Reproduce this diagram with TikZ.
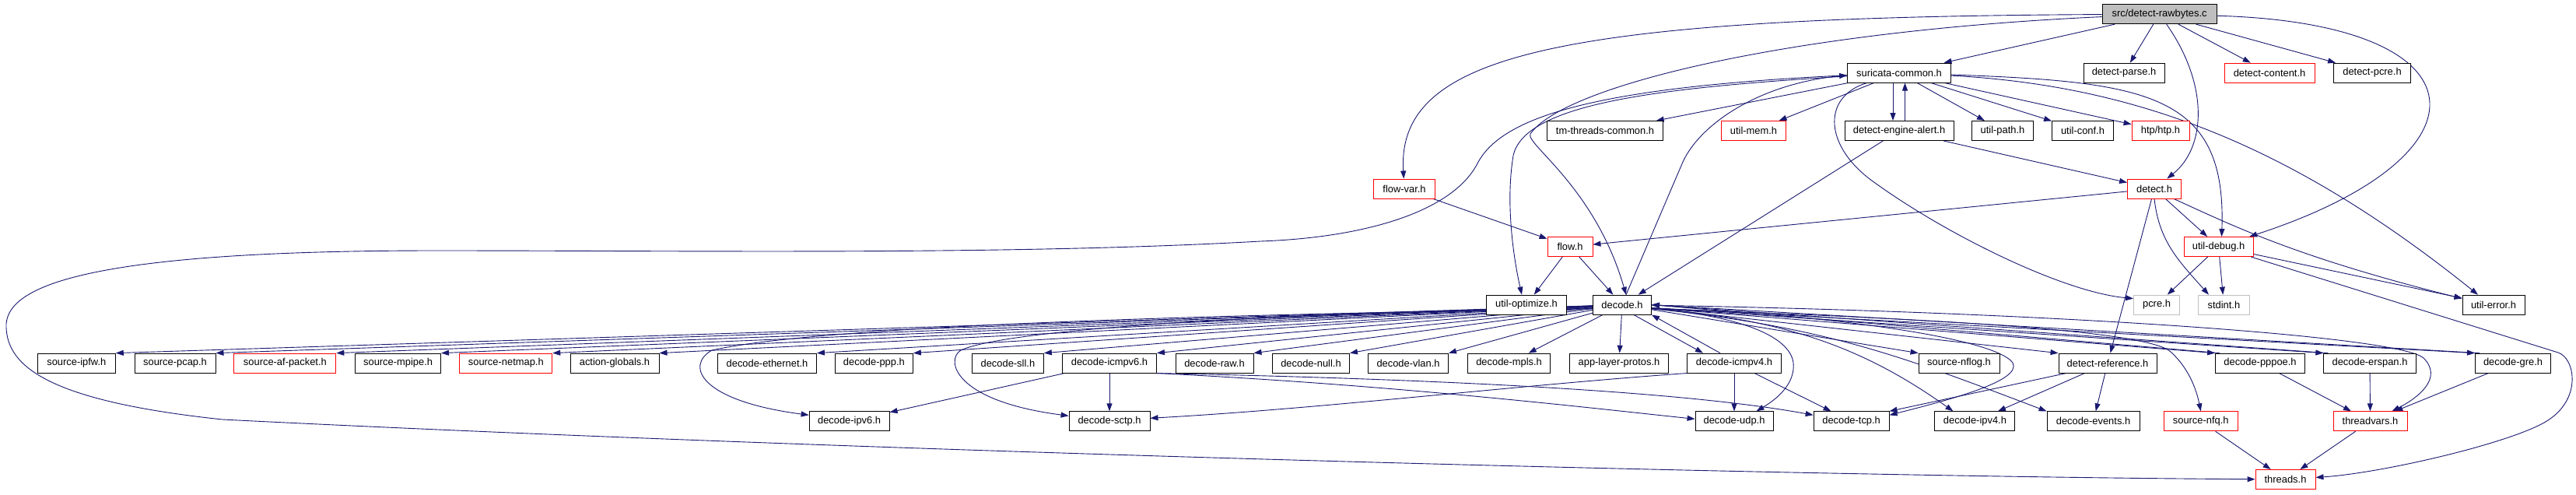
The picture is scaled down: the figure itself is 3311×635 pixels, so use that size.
\documentclass[tikz,border=0pt]{standalone}
\usepackage{fontspec}
\setmainfont{Liberation Sans}
\usetikzlibrary{arrows.meta}
\definecolor{edgec}{HTML}{191970}
\definecolor{srcfill}{HTML}{BFBFBF}
\definecolor{ghost}{HTML}{BFBFBF}
\definecolor{redb}{HTML}{FF0000}
\pgfdeclarelayer{bg}
\pgfsetlayers{bg,main}
\begin{document}
\begin{tikzpicture}[x=1pt,y=-1pt,
  box/.style={draw=black,line width=0.9pt,minimum height=25pt,inner sep=0pt,fill=white,font=\fontsize{12.9}{15}\selectfont},
  redbox/.style={box,draw=redb},
  ghostbox/.style={box,draw=ghost},
  srcbox/.style={box,fill=srcfill},
  conn/.style={draw=edgec,line width=0.9pt,-{Triangle[length=10pt,width=7pt]}}]
\useasboundingbox (0,0) rectangle (3311,635);
% row 0
\node[srcbox,minimum width=147pt] (src) at (2775.6,18.2) {src/detect-rawbytes.c};
% row 1
\node[box,minimum width=133pt] (sc) at (2441,93.6) {suricata-common.h};
\node[box,minimum width=104pt] (dparse) at (2730,93.6) {detect-parse.h};
\node[redbox,minimum width=116pt] (dcontent) at (2917,93.6) {detect-content.h};
\node[box,minimum width=99pt] (dpcre) at (3049,93.6) {detect-pcre.h};
% row 2
\node[box,minimum width=149pt] (tmtc) at (2063,168) {tm-threads-common.h};
\node[redbox,minimum width=83pt] (umem) at (2254,168) {util-mem.h};
\node[box,minimum width=140pt] (dea) at (2441,168) {detect-engine-alert.h};
\node[box,minimum width=79pt] (upath) at (2574,168) {util-path.h};
\node[box,minimum width=79pt] (uconf) at (2677,168) {util-conf.h};
\node[redbox,minimum width=74pt] (htp) at (2777,168) {htp/htp.h};
% row 3
\node[redbox,minimum width=79pt] (flowvar) at (1805,242.5) {flow-var.h};
\node[redbox,minimum width=69pt] (detect) at (2769,242.5) {detect.h};
% row 4
\node[redbox,minimum width=58pt] (flow) at (2018,317) {flow.h};
\node[redbox,minimum width=89pt] (udebug) at (2851.5,317) {util-debug.h};
% row 5
\node[box,minimum width=103pt] (uopt) at (1962,391.6) {util-optimize.h};
\node[box,minimum width=75pt] (decode) at (2085,391.6) {decode.h};
\node[ghostbox,minimum width=59pt] (pcre) at (2772,391.6) {pcre.h};
\node[ghostbox,minimum width=66pt] (stdint) at (2858.4,391.6) {stdint.h};
\node[box,minimum width=80pt] (uerror) at (3205,391.6) {util-error.h};
% row 6
\node[box,minimum width=100pt] (ipfw) at (98.3,466.6) {source-ipfw.h};
\node[box,minimum width=104pt] (pcap) at (225,466.6) {source-pcap.h};
\node[redbox,minimum width=131pt] (afpacket) at (366.4,466.6) {source-af-packet.h};
\node[box,minimum width=110pt] (mpipe) at (511.6,466.6) {source-mpipe.h};
\node[redbox,minimum width=119pt] (netmap) at (650.3,466.6) {source-netmap.h};
\node[box,minimum width=114pt] (actglob) at (790,466.6) {action-globals.h};
\node[box,minimum width=127pt] (deth) at (986,466.6) {decode-ethernet.h};
\node[box,minimum width=100pt] (dppp) at (1123.4,466.6) {decode-ppp.h};
\node[box,minimum width=92pt] (dsll) at (1295.4,466.6) {decode-sll.h};
\node[box,minimum width=121pt] (dicmp6) at (1426,466.6) {decode-icmpv6.h};
\node[box,minimum width=100pt] (drawh) at (1561,466.6) {decode-raw.h};
\node[box,minimum width=99pt] (dnull) at (1685,466.6) {decode-null.h};
\node[box,minimum width=103pt] (dvlan) at (1810,466.6) {decode-vlan.h};
\node[box,minimum width=106pt] (dmpls) at (1939.6,466.6) {decode-mpls.h};
\node[box,minimum width=127pt] (alp) at (2081,466.6) {app-layer-protos.h};
\node[box,minimum width=121.6pt] (dicmp4) at (2229,466.6) {decode-icmpv4.h};
\node[box,minimum width=104pt] (nflog) at (2518,466.6) {source-nflog.h};
\node[box,minimum width=126pt] (dref) at (2709,466.6) {detect-reference.h};
\node[box,minimum width=115pt] (pppoe) at (2905,466.6) {decode-pppoe.h};
\node[box,minimum width=118.5pt] (erspan) at (3046,466.6) {decode-erspan.h};
\node[box,minimum width=97pt] (gre) at (3230,466.6) {decode-gre.h};
% row 7
\node[box,minimum width=103pt] (dipv6) at (1091.6,541.3) {decode-ipv6.h};
\node[box,minimum width=104pt] (dsctp) at (1426,541.3) {decode-sctp.h};
\node[box,minimum width=100pt] (dudp) at (2229,541.3) {decode-udp.h};
\node[box,minimum width=97pt] (dtcp) at (2379.6,541.3) {decode-tcp.h};
\node[box,minimum width=103pt] (dipv4) at (2538.4,541.3) {decode-ipv4.h};
\node[box,minimum width=119pt] (devents) at (2690.5,541.3) {decode-events.h};
\node[redbox,minimum width=95pt] (nfq) at (2828.7,541.3) {source-nfq.h};
\node[redbox,minimum width=95pt] (tvars) at (3046.5,541.3) {threadvars.h};
% row 8
\node[redbox,minimum width=77pt] (threads) at (2937.5,616) {threads.h};

\begin{pgfonlayer}{bg}
% from src
\path[conn] (src) -- (sc);
\path[conn] (src) -- (dparse);
\path[conn] (src) -- (dcontent);
\path[conn] (src) -- (dpcre);
\path[conn] (src) .. controls (2840,110) and (2835,190) .. (detect);
\path[conn] (src) .. controls (3200,30) and (3210,200) .. (udebug);
\path[conn] (src) .. controls (2000,22) and (1795,70) .. (flowvar);
\path[conn] (src) .. controls (2300,40) and (2010,110) .. (1967,172) .. controls (1960,185) and (2050,240) .. ([xshift=5pt]decode.north);
% from suricata-common
\path[conn] (sc) -- (tmtc);
\path[conn] (sc) -- (umem);
\path[conn] ([xshift=-8pt]sc.south) -- ([xshift=-8pt]dea.north);
\path[conn] ([xshift=7.5pt]dea.north) -- ([xshift=7.5pt]sc.south);
\path[conn] (sc) -- (upath);
\path[conn] (sc) -- (uconf);
\path[conn] (sc) -- (htp);
\path[conn] (sc) .. controls (2340,125) and (2345,190) .. (2410,235) .. controls (2500,300) and (2650,375) .. ([yshift=8pt]pcre.west);
\path[conn] (sc) .. controls (2760,105) and (2862,120) .. ([xshift=4pt]udebug.north);
\path[conn] (sc) .. controls (2750,110) and (2950,190) .. ([xshift=-20pt]uerror.north);
\path[conn] (sc) .. controls (2050,112) and (1930,150) .. (1899,210) .. controls (1868,270) and (1760,305) .. (1620,310) .. controls (1300,328) and (900,322) .. (560,322) .. controls (100,322) and (5,370) .. (8,421) .. controls (10,470) and (60,515) .. (286,539) .. controls (1100,580) and (2300,612) .. (threads);
\path[conn] (sc) .. controls (2150,112) and (1960,130) .. (1945,200) .. controls (1935,260) and (1945,330) .. ([xshift=-6pt]uopt.north);
\path[conn] ([xshift=5pt]decode.north) -- (2163,208) .. controls (2185,160) and (2260,108) .. ([yshift=-3pt]sc.west);
% middle
\path[conn] (flowvar) -- (flow);
\path[conn] (detect) -- (flow);
\path[conn] (dea) -- (detect);
\path[conn] (dea) -- (decode);
\path[conn] (flow) -- (uopt);
\path[conn] (flow) -- (decode);
\path[conn] (detect) -- (udebug);
\path[conn] (detect.south) .. controls (2775,310) and (2800,335) .. ([xshift=14pt]stdint.north west);
\path[conn] ([xshift=25pt]detect.south) .. controls (2870,290) and (2950,330) .. ([yshift=8pt]uerror.west);
\path[conn] (detect) -- (dref);
\path[conn] (udebug) -- (pcre);
\path[conn] (udebug) -- (stdint);
\path[conn] (udebug) -- (uerror);
\path[conn] (udebug) -- (3288,453) .. controls (3310,460) and (3320,515) .. (3270,543) .. controls (3220,571) and (3060,608) .. (threads);
% bottom right
\path[conn] (nfq) -- (threads);
\path[conn] (tvars) -- (threads);
\path[conn] (pppoe) -- (tvars);
\path[conn] (erspan) -- (tvars);
\path[conn] (gre) -- (tvars);
\path[conn] (decode) .. controls (2600,400) and (3080,430) .. (3115,460) .. controls (3140,485) and (3110,510) .. ([xshift=-20pt]tvars.north east);
% decode fan left
\path[conn] (decode) -- (ipfw.north east);
\path[conn] (decode) -- (pcap.north east);
\path[conn] (decode) -- (afpacket.north east);
\path[conn] (decode) -- (mpipe.north east);
\path[conn] (decode) -- (netmap.north east);
\path[conn] (decode) -- (actglob.north east);
\path[conn] (decode) -- (deth.north east);
\path[conn] (decode) -- (dppp.north east);
\path[conn] (decode) -- (dsll.north east);
\path[conn] (decode) -- (dicmp6.north east);
\path[conn] (decode) -- (drawh.north east);
\path[conn] (decode) -- (dnull.north east);
\path[conn] (decode) -- (dvlan.north east);
\path[conn] (decode) -- (dmpls);
\path[conn] (decode) -- (alp);
\path[conn] ([yshift=-5pt]decode.west) .. controls (1500,405) and (1050,420) .. (915,450) .. controls (880,470) and (900,515) .. ([yshift=8pt]dipv6.west);
\path[conn] ([yshift=-5pt]decode.west) .. controls (1700,400) and (1300,420) .. (1235,450) .. controls (1215,462) and (1225,515) .. ([yshift=7pt]dsctp.west);
% decode fan right
\path[conn] ([xshift=15pt]decode.south) -- ([xshift=-40pt]dicmp4.north);
\path[conn] ([xshift=-18pt]dicmp4.north) -- (decode.south east);
\path[conn] (decode) -- (nflog.north west);
\path[conn] (decode) -- (dref.north west);
\path[conn] ([yshift=-4pt]decode.east) -- (pppoe.north west);
\path[conn] ([xshift=6pt]pppoe.north west) -- (decode.east);
\path[conn] ([yshift=-4pt]decode.east) -- (erspan.north west);
\path[conn] ([xshift=6pt]erspan.north west) -- (decode.east);
\path[conn] ([yshift=-4pt]decode.east) -- (gre.north west);
\path[conn] ([xshift=6pt]gre.north west) -- (decode.east);
\path[conn] ([yshift=-5pt]decode.east) .. controls (2230,405) and (2300,430) .. (2305,466) .. controls (2308,495) and (2280,515) .. ([xshift=-22pt]dudp.north east);
\path[conn] ([yshift=-5pt]decode.east) .. controls (2300,400) and (2560,430) .. (2587,466) .. controls (2600,490) and (2500,515) .. ([yshift=-5pt]dtcp.north east);
\path[conn] ([yshift=-5pt]decode.east) .. controls (2300,410) and (2400,450) .. ([xshift=-28pt]dipv4.north);
\path[conn] ([yshift=-5pt]decode.east) .. controls (2350,420) and (2450,460) .. (devents.north west);
\path[conn] ([yshift=-5pt]decode.east) .. controls (2500,410) and (2760,425) .. (2790,452) .. controls (2810,470) and (2822,495) .. (nfq.north);
% icmpv6
\path[conn] (dicmp6) -- (dipv6);
\path[conn] (dicmp6) -- (dsctp);
\path[conn] (dicmp6.south east) .. controls (1800,495) and (2050,525) .. ([yshift=3pt]dudp.west);
\path[conn] (dicmp6.south east) .. controls (1800,486) and (2150,500) .. ([yshift=8pt]dtcp.west);
% icmpv4
\path[conn] (dicmp4) -- (dudp);
\path[conn] (dicmp4) -- (dtcp);
\path[conn] (dicmp4.south west) .. controls (1950,495) and (1700,525) .. ([yshift=4pt]dsctp.east);
% reference
\path[conn] ([xshift=10pt]dref.south west) -- (dtcp.north east);
\path[conn] (dref) -- (dipv4);
\path[conn] (dref) -- (devents);
\end{pgfonlayer}
\end{tikzpicture}
\end{document}
